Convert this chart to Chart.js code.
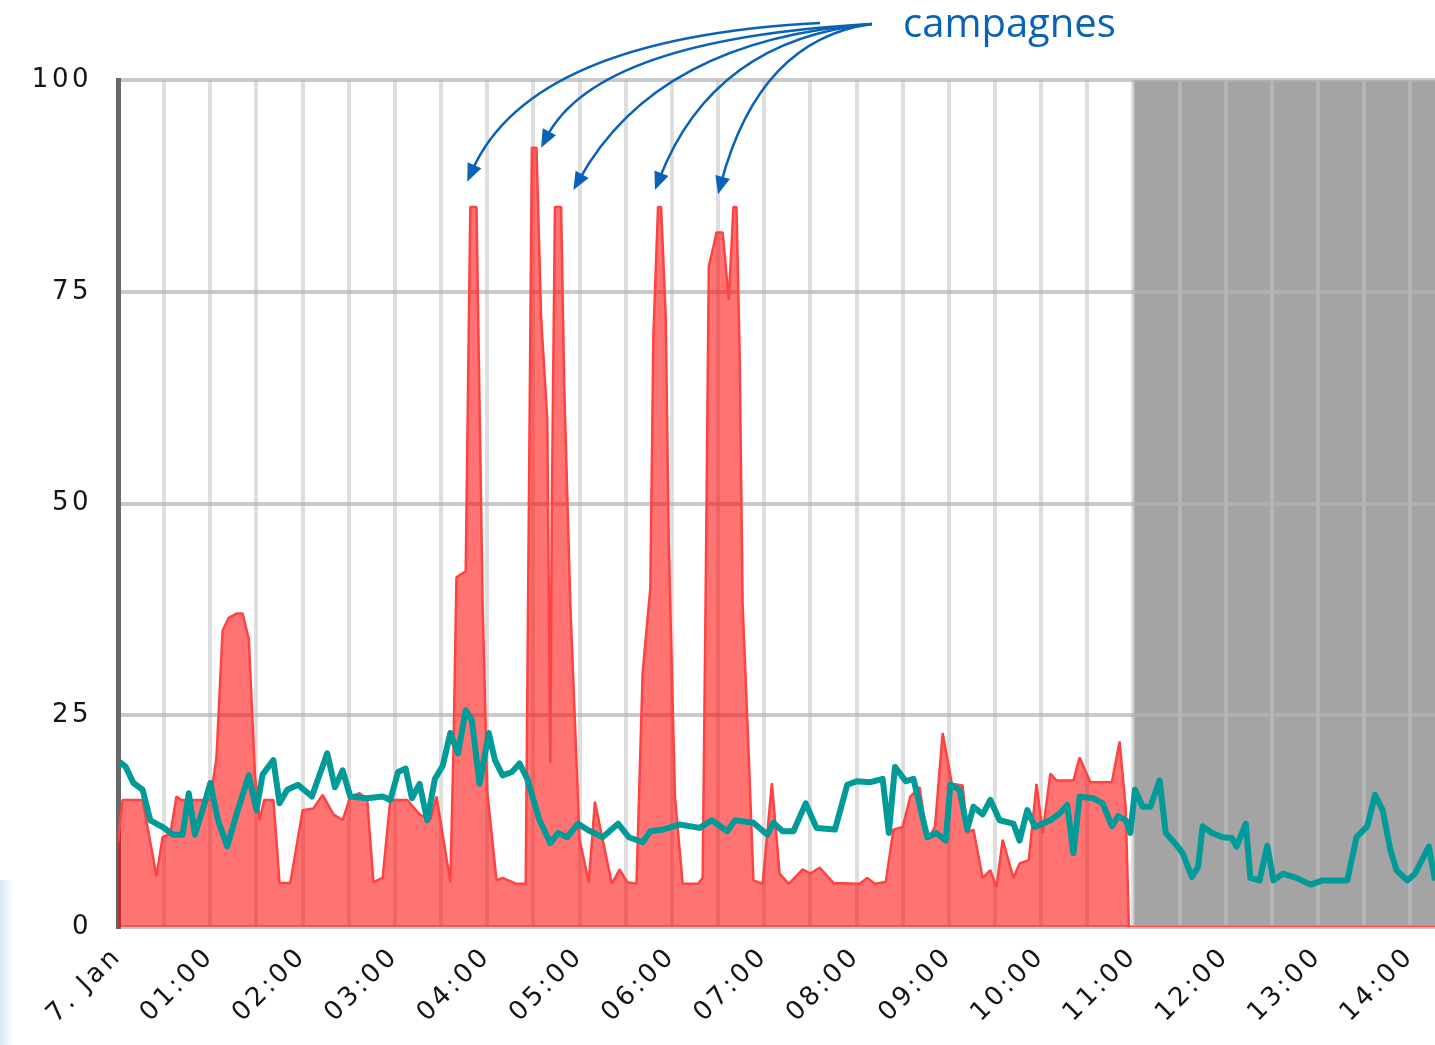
<!DOCTYPE html>
<html>
<head>
<meta charset="utf-8">
<script src="https://cdn.jsdelivr.net/npm/chart.js@4.4.1/dist/chart.umd.min.js"></script>
<style>
  html, body { margin: 0; padding: 0; background: #fff; }
  #wrap { position: relative; width: 1435px; height: 1045px; overflow: hidden; }
  #edge { position: absolute; left: 0; top: 880px; width: 14px; height: 165px;
          background: linear-gradient(to right, #d8e7f5, rgba(255,255,255,0)); }
  #myChart { position: absolute; left: 0; top: 0; }
</style>
</head>
<body>
<div id="wrap">
  <div id="edge"></div>
  <canvas id="myChart" width="1435" height="1045"></canvas>
</div>
<script>
// minutes after 00:00 on 7 Jan
const redMinutes = [0,3,16,21,25,29,34,38,41,60,64,68,72,77,81,85,89,92,95,101,105,112,120,127,133,140,146,151,157,162,166,172,177,188,196,203,207,216,218,220,226,229,233,237,240,246,250,259,265,269,272,275,279,281,282,284,288,290,294,300,306,310,315,321,326,331,337,341,346,348,351,353,356,358,362,367,377,380,382,384,387,389,393,397,400,402,404,406,410,413,419,425,430,436,445,450,456,465,482,487,492,499,504,510,515,521,526,531,536,542,549,552,556,562,567,571,575,582,586,592,597,601,606,610,621,625,632,646,651,655,657,856];
const redValues = [10,15,15,10,6,10.6,11,15.4,15,15,20,35,36.5,37,37,34,18,12.6,15,15,5.2,5.2,13.8,14,15.6,13.3,12.6,15.4,15.8,15,5.3,5.8,15,15,13.3,12.6,15.4,5.3,20.5,41.3,42,85,85,38,16,5.5,5.8,5.1,5.1,92,92,72,60,19.4,50,85,85,64,38,10.3,5.3,14.8,10.3,5.1,6.8,5.3,5.1,30,40,70,85,85,72,45,15.4,5.1,5.1,5.8,40,78,80.3,82,82,74,85,85,68,38,20,5.5,5.1,17,6.3,5.1,6.8,6.3,7,5.2,5.1,5.8,5.1,5.3,11.5,11.8,15.4,16.5,10.3,11.8,22.9,16.9,16.7,11.1,11.5,5.8,6.7,4.7,10.3,5.8,7.5,7.9,16.9,11.1,18.1,17.3,17.3,20,17.1,17.1,21.9,14,0,0];

const tealMinutes = [1,5,10,16,21,29,36,42,46,50,55,60,65,71,77,85,90,94,101,105,110,117,126,136,141,146,151,162,172,177,182,187,191,196,201,206,211,216,221,226,230,235,241,245,250,256,261,266,274,281,286,292,299,306,315,325,332,341,346,354,365,378,386,396,401,413,422,426,432,439,447,454,466,474,480,489,497,501,505,512,517,526,532,538,541,547,552,556,562,567,573,582,586,591,596,606,612,617,621,625,634,640,646,650,655,658,661,666,671,677,681,687,692,698,702,705,711,718,724,727,733,736,742,747,751,757,766,775,783,799,805,812,817,822,827,831,838,843,852,856];
const tealValues = [19.5,18.9,17,16.2,12.6,11.8,10.9,10.9,15.8,10.9,13.8,17,12.6,9.5,13.3,17.9,13.8,18,19.7,14.6,16.2,16.8,15.4,20.5,16.5,18.5,15.4,15.2,15.4,15,18.3,18.7,15.2,16.9,12.6,17.5,19,22.9,20.5,25.6,24.4,16.9,22.9,19.7,17.9,18.3,19.3,17.5,12.6,9.9,11.1,10.6,12.2,11.4,10.6,12.2,10.6,10,11.3,11.5,12.1,11.7,12.6,11.3,12.6,12.3,10.9,12.3,11.3,11.3,14.6,11.7,11.5,16.8,17.2,17.1,17.5,11.1,18.9,17.2,17.5,10.6,11.1,10.2,16.8,16.2,11.5,14.2,13.3,15,12.6,12.2,10.2,13.8,11.8,12.6,13.4,14.4,8.7,15.4,15.2,14.6,11.9,13.1,12.6,11.1,16.2,14.2,14.2,17.3,11.1,9.9,8.7,5.9,7.1,11.9,11.1,10.6,10.5,9.5,12.2,5.8,5.5,9.6,5.5,6.3,5.8,5,5.5,5.5,10.6,11.9,15.6,13.8,9.1,6.7,5.5,6.3,9.5,5.5];

const hourLabels = ['7. Jan','01:00','02:00','03:00','04:00','05:00','06:00','07:00','08:00','09:00','10:00','11:00','12:00','13:00','14:00'];
const axisEnd = 856;     // right edge of the visible window
const shadedFrom = 660;  // 11:00, grey band to the end
// where the "campagnes" arrows point: [minute, value]
const campaignTips = [[227,88],[275,92],[296,87],[349,87],[390,86.5]];

const spacing = '3.5px';

const letterSpacingPlugin = {
  id: 'letterSpacing',
  beforeLayout(c) { c.ctx.letterSpacing = spacing; },
  beforeDraw(c) { c.ctx.letterSpacing = spacing; },
};

const bandPlugin = {
  id: 'band',
  beforeDraw(c) {
    const { ctx, chartArea: a, scales } = c;
    const left = scales.x.getPixelForValue(shadedFrom);
    ctx.save();
    ctx.fillStyle = '#a4a4a4';
    ctx.fillRect(left, a.top, a.right - left, a.bottom - a.top);
    ctx.restore();
  },
};

const notePlugin = {
  id: 'note',
  afterDraw(c) {
    const { ctx, scales } = c;
    ctx.save();
    ctx.letterSpacing = '0px';
    ctx.fillStyle = '#0a62b8';
    ctx.strokeStyle = '#0a62b8';
    ctx.font = '40px "Open Sans"';
    ctx.textBaseline = 'alphabetic';
    ctx.fillText('campagnes', 903, 37);

    const bend = [0.18, 0.17, 0.28, 0.27, 0.27];
    campaignTips.forEach(([m, v], i) => {
      const tx = scales.x.getPixelForValue(m);
      const ty = scales.y.getPixelForValue(v);
      const sx = i === 0 ? 820 : 872;
      const sy = i === 0 ? 23 : 24;
      const cx = tx + bend[i] * (sx - tx);
      const cy = sy + 15;
      const ang = Math.atan2(ty - cy, tx - cx);
      const ex = tx - Math.cos(ang) * 12;
      const ey = ty - Math.sin(ang) * 12;
      ctx.lineWidth = 2.5;
      ctx.beginPath();
      ctx.moveTo(sx, sy);
      ctx.quadraticCurveTo(cx, cy, ex, ey);
      ctx.stroke();
      // head
      const len = 18, half = 7.5;
      const bx = tx - Math.cos(ang) * len;
      const by = ty - Math.sin(ang) * len;
      ctx.beginPath();
      ctx.moveTo(tx, ty);
      ctx.lineTo(bx - Math.sin(ang) * half, by + Math.cos(ang) * half);
      ctx.lineTo(bx + Math.sin(ang) * half, by - Math.cos(ang) * half);
      ctx.closePath();
      ctx.fill();
    });
    ctx.restore();
  },
};

const canvas = document.getElementById('myChart');
const tickFont = { family: '"DejaVu Sans"', size: 26 };

new Chart(canvas.getContext('2d'), {
  type: 'line',
  data: {
    datasets: [
      {
        label: 'teal',
        data: tealMinutes.map((m, i) => ({ x: m, y: tealValues[i] })),
        borderColor: '#009a98',
        borderWidth: 6,
        borderJoinStyle: 'round',
        fill: false,
        pointRadius: 0,
        tension: 0,
        order: 1,
      },
      {
        label: 'red',
        data: redMinutes.map((m, i) => ({ x: m, y: redValues[i] })),
        borderColor: '#ff4242',
        borderWidth: 2.5,
        borderJoinStyle: 'bevel',
        backgroundColor: 'rgba(255,0,0,0.55)',
        fill: 'origin',
        pointRadius: 0,
        tension: 0,
        order: 2,
      },
    ],
  },
  options: {
    responsive: false,
    animation: false,
    devicePixelRatio: 1,
    layout: { padding: { top: 80, right: 0, left: 0, bottom: 0 } },
    plugins: { legend: { display: false }, tooltip: { enabled: false } },
    scales: {
      x: {
        type: 'linear',
        min: 0,
        max: axisEnd,
        afterFit(s) { s.height = 118; s.paddingRight = 0; s.paddingLeft = 0; },
        border: { color: '#c3c9d3', width: 3 },
        grid: { color: 'rgba(195,195,195,0.55)', lineWidth: 4, drawTicks: false },
        ticks: {
          stepSize: 30,
          includeBounds: false,
          autoSkip: false,
          minRotation: 45,
          maxRotation: 45,
          padding: 14,
          color: '#141414',
          font: tickFont,
          callback: (v) => (v % 60 === 0 ? hourLabels[v / 60] : ''),
        },
      },
      y: {
        min: 0,
        max: 100,
        afterFit(s) { s.width = 118; },
        border: { color: '#686868', width: 5 },
        grid: { color: 'rgba(180,180,180,0.7)', lineWidth: 4, drawTicks: false },
        ticks: {
          stepSize: 25,
          padding: 26,
          color: '#141414',
          font: tickFont,
        },
      },
    },
  },
  plugins: [letterSpacingPlugin, bandPlugin, notePlugin],
});
</script>
</body>
</html>
